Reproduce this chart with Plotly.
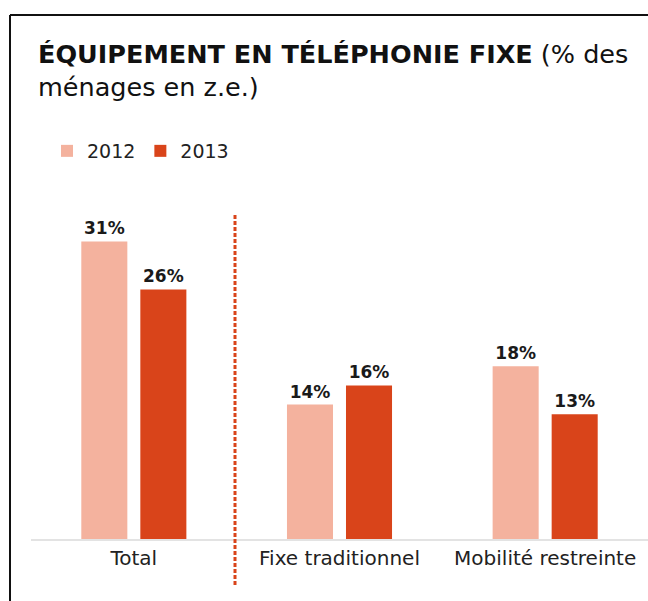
import plotly.graph_objects as go

categories = ["Total", "Fixe traditionnel", "Mobilité restreinte"]
values_2012 = [31, 14, 18]
values_2013 = [26, 16, 13]
series_names = ["2012", "2013"]
color_2012 = "#F4B29E"
color_2013 = "#D9441A"

FONT = "DejaVu Sans"

fig = go.Figure()
for name, vals, col in [(series_names[0], values_2012, color_2012),
                        (series_names[1], values_2013, color_2013)]:
    fig.add_trace(go.Bar(
        x=categories, y=vals, name=name, marker=dict(color=col, line=dict(width=0)),
        texttemplate="<b>%{y}%</b>", textposition="outside",
        textfont=dict(family=FONT, size=17, color="#1a1a1a"),
        cliponaxis=False, hoverinfo="skip",
    ))

W, H = 648, 601
ml, mr, mt, mb = 31, 0, 200, 62
pw, ph = W - ml - mr, H - mt - mb

def px(xp):
    return (xp - ml) / pw

def py(yp):
    return (H - mb - yp) / ph

shapes = [
    # frame
    dict(type="line", xref="paper", yref="paper", x0=px(10), x1=px(650), y0=py(15), y1=py(15),
         line=dict(color="#111111", width=2)),
    dict(type="line", xref="paper", yref="paper", x0=px(10), x1=px(10), y0=py(15), y1=py(603),
         line=dict(color="#111111", width=2)),
    # dashed separator
    dict(type="line", xref="paper", yref="paper", x0=px(235), x1=px(235), y0=py(215), y1=py(585),
         line=dict(color=color_2013, width=3, dash="4px,2px")),
]

fig.update_layout(
    width=W, height=H,
    margin=dict(l=ml, r=mr, t=mt, b=mb, pad=0),
    paper_bgcolor="white", plot_bgcolor="white",
    barmode="group", bargap=0.426, bargroupgap=0.22,
    title=dict(
        text="<b>ÉQUIPEMENT EN TÉLÉPHONIE FIXE</b> (% des<br>ménages en z.e.)",
        x=38 / W, xanchor="left", xref="container",
        y=1 - 63 / H, yanchor="top", yref="container",
        font=dict(family=FONT, size=25.5, color="#111111"),
    ),
    legend=dict(
        orientation="h", x=px(47), xanchor="left", y=py(151), yanchor="middle",
        font=dict(family=FONT, size=19, color="#222222"),
        bgcolor="rgba(0,0,0,0)", itemwidth=30, traceorder="normal",
    ),
    xaxis=dict(
        showgrid=False, zeroline=False, ticks="", showline=True,
        linecolor="#e3e3e3", linewidth=2,
        tickfont=dict(family=FONT, size=20, color="#222222"),
        range=[-0.5, 2.5],
    ),
    yaxis=dict(visible=False, range=[0, ph / 9.6]),
    shapes=shapes,
    showlegend=True,
)

fig.write_html("out.html", config={"displayModeBar": False},
               post_script="document.body.style.margin='0';document.body.style.padding='0';")
